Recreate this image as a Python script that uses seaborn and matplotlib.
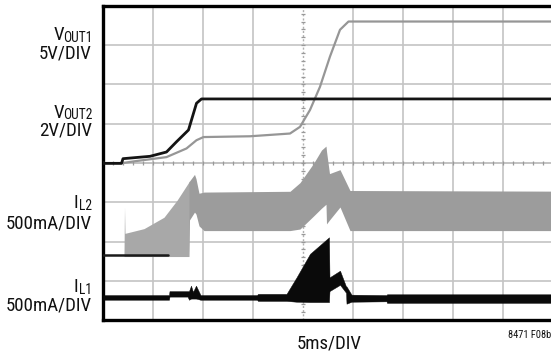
import numpy as np
import pandas as pd
import matplotlib
matplotlib.use("Agg")
import matplotlib.pyplot as plt
import seaborn as sns

# ---- data (time in divisions, amplitude in divisions) ----
t_vout2 = [0, 0.37, 0.40, 0.94, 1.27, 1.47, 1.71, 1.87, 1.97, 10]
v_vout2 = [3.99, 3.99, 4.11, 4.17, 4.28, 4.54, 4.84, 5.52, 5.63, 5.63]

t_vout1 = [0, 0.40, 0.61, 1.27, 1.67, 1.87, 2.01, 2.94, 3.74, 3.94, 4.14, 4.34, 4.54, 4.74, 4.91, 10]
v_vout1 = [4.0, 4.0, 4.04, 4.15, 4.37, 4.58, 4.66, 4.68, 4.75, 4.92, 5.35, 5.94, 6.71, 7.39, 7.60, 7.60]

t_il2 = [0.42, 0.43, 0.44, 0.82, 1.22, 1.48, 1.72, 1.73, 1.83, 1.86, 1.92, 2.02, 3.74, 3.94,
         4.21, 4.37, 4.46, 4.47, 4.53, 4.74, 4.94, 10]
il2_hi = [1.70, 2.88, 2.21, 2.33, 2.62, 3.05, 3.52, 3.54, 3.71, 3.60, 3.23, 3.26, 3.28, 3.50,
          3.99, 4.33, 4.43, 4.30, 3.73, 3.83, 3.30, 3.28]
il2_lo = [1.62, 1.62, 1.62, 1.62, 1.62, 1.62, 1.62, 2.55, 2.75, 2.70, 2.40, 2.28, 2.28, 2.32,
          2.65, 2.85, 2.95, 2.45, 2.55, 2.88, 2.28, 2.28]
t_il2_base = [0, 1.30]
il2_base = [1.66, 1.66]

t_il1 = [0, 1.32, 1.33, 1.69, 1.72, 1.76, 1.80, 1.86, 1.95, 3.08, 3.10, 3.67, 3.87, 4.14,
         4.52, 4.53, 4.74, 4.86, 4.87, 4.97, 5.67, 5.68, 10]
il1_hi = [0.64, 0.64, 0.74, 0.74, 0.74, 0.88, 0.72, 0.88, 0.64, 0.64, 0.67, 0.67, 1.09, 1.69,
          2.11, 1.09, 1.26, 0.86, 0.86, 0.65, 0.64, 0.66, 0.66]
il1_lo = [0.52, 0.52, 0.60, 0.60, 0.52, 0.55, 0.55, 0.55, 0.52, 0.52, 0.49, 0.49, 0.47, 0.46,
          0.46, 0.74, 0.90, 0.70, 0.42, 0.47, 0.48, 0.44, 0.44]

# channel labels
ch_main = ["V", "V", "I", "I"]
ch_sub = ["OUT1", "OUT2", "L2", "L1"]
ch_scale = ["5V/DIV", "2V/DIV", "500mA/DIV", "500mA/DIV"]
name_base_px = [40, 118, 208, 292]
scale_base_px = [59, 136, 228, 311]
x_label = "5ms/DIV"
fig_id = "8471 F08b"

# ---- styling ----
sns.set_theme(style="white")
fams = ["Roboto Condensed", "Archivo Narrow", "Asap Condensed", "Liberation Sans", "DejaVu Sans"]
plt.rcParams["font.family"] = fams

W, H = 551, 353
fig = plt.figure(figsize=(W / 100, H / 100), dpi=100)
left_px, top_px, bot_px, divx, divy = 103, 5.8, 320.2, 50.0, 39.3
ax = fig.add_axes([left_px / W, 1 - bot_px / H, 10 * divx / W, (bot_px - top_px) / H])
ax.set_xlim(0, 10)
ax.set_ylim(0, 8)

grid_c = "#c4c4c4"
for gx in range(1, 10):
    if gx == 4:
        ax.axvline(gx, color="#b0b0b0", lw=1.0, ls=(0, (1.5, 1.5)), zorder=1)
    else:
        ax.axvline(gx, color=grid_c, lw=1.2, zorder=1)
for gy in range(1, 8):
    ax.axhline(gy, color=grid_c if gy != 4 else "#b8b8b8", lw=1.2, zorder=1)
minor_x = np.arange(0, 10.001, 0.2)
minor_y = np.arange(0, 8.001, 0.2)
ax.plot(minor_x, np.full_like(minor_x, 4.0), ls="none", marker="|", ms=3.5, mew=0.9, color="#999999", zorder=1)
ax.plot(np.full_like(minor_y, 4.0), minor_y, ls="none", marker="_", ms=3.5, mew=0.9, color="#999999", zorder=1)

# IL2 band (lighter during the soft-start ramp)
t_arr = np.array(t_il2)
ax.fill_between(t_il2, il2_lo, il2_hi, where=t_arr <= 1.73, color="#a8a8a8", lw=0, zorder=2)
ax.fill_between(t_il2, il2_lo, il2_hi, where=t_arr >= 1.72, color="#9c9c9c", lw=0, zorder=2)
sns.lineplot(x=t_il2_base, y=il2_base, color="#1a1a1a", lw=1.8, ax=ax, zorder=3)

# IL1 band
ax.fill_between(t_il1, il1_lo, il1_hi, color="#0a0a0a", lw=0.3, edgecolor="#0a0a0a", zorder=4)

# voltages
sns.lineplot(x=t_vout1, y=v_vout1, color="#969696", lw=1.6, ax=ax, zorder=5, sort=False)
sns.lineplot(x=t_vout2, y=v_vout2, color="#141414", lw=2.0, ax=ax, zorder=6, sort=False)

ax.set_xticks([])
ax.set_yticks([])
ax.set_xlabel("")
ax.set_ylabel("")
for s in ax.spines.values():
    s.set_color("black")
    s.set_linewidth(2.4)

# ---- text, size calibrated so "500mA/DIV" is ~86 px wide ----
renderer = fig.canvas.get_renderer()
probe = fig.text(0, 0, "500mA/DIV", fontsize=14)
w14 = probe.get_window_extent(renderer).width
probe.remove()
fs = 14 * 86.0 / w14
fs = min(max(fs, 10), 16)
sub_fs = fs * 0.72
col = "#111111"
xr = 92 / W


def fy(px):
    return 1 - px / H


for m, sb, nb, sc, sbp in zip(ch_main, ch_sub, name_base_px, ch_scale, scale_base_px):
    ts = fig.text(xr, fy(nb + 1.5), sb, ha="right", va="baseline", fontsize=sub_fs, color=col)
    wsub = ts.get_window_extent(renderer).width
    shift = 1.5 if m == "V" else -0.5
    fig.text(xr - (wsub - shift) / W, fy(nb), m, ha="right", va="baseline", fontsize=fs, color=col)
    fig.text(xr, fy(sbp), sc, ha="right", va="baseline", fontsize=fs, color=col)

fig.text(329 / W, fy(349), x_label, ha="center", va="baseline", fontsize=fs, color=col)
fig.text(508 / W, fy(338), fig_id, ha="left", va="baseline", fontsize=fs * 0.55, color=col)

fig.savefig("out.png", dpi=100)
